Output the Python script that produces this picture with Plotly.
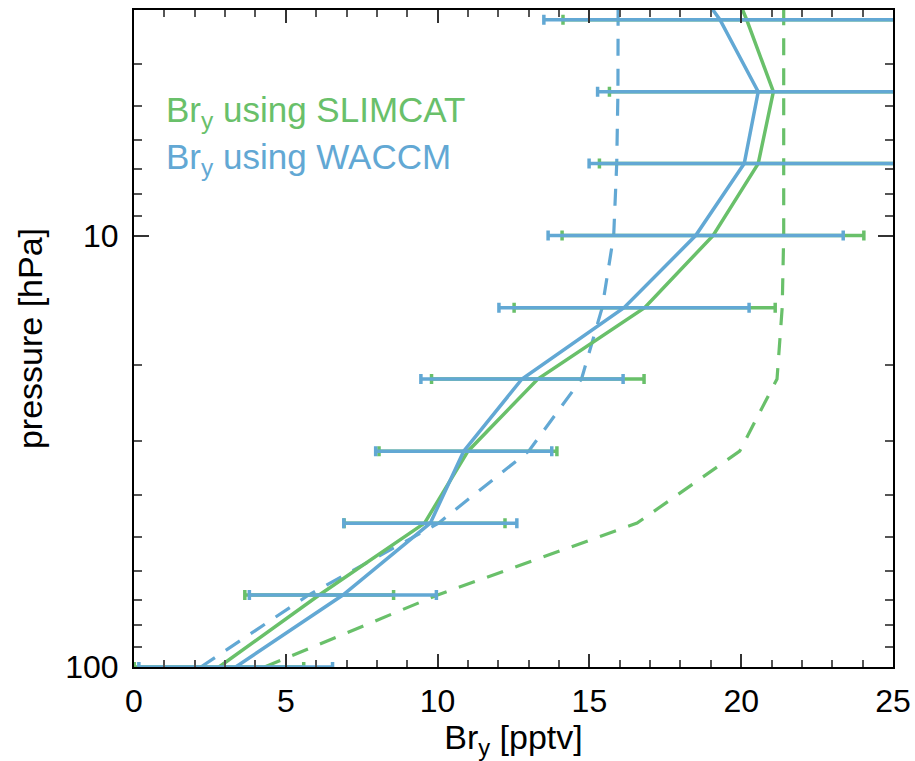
import plotly.graph_objects as go

# pressure levels [hPa]
pressure = [100, 68.1, 46.4, 31.6, 21.5, 14.7, 10, 6.81, 4.64, 3.16, 2.15]

# Bry using SLIMCAT (solid, green) and its uncertainty
bry_slimcat = [2.8, 6.1, 9.57, 11.0, 13.3, 16.82, 19.07, 20.56, 21.06, 20.18, 19.2]
err_slimcat = [2.79, 2.45, 2.65, 2.93, 3.5, 4.3, 4.97, 5.23, 5.4, 6.05, 0]

# Bry using WACCM (solid, blue) and its uncertainty
bry_waccm = [3.35, 6.88, 9.76, 10.86, 12.78, 16.14, 18.5, 20.1, 20.56, 19.3, 17.6]
err_waccm = [3.19, 3.08, 2.85, 2.9, 3.33, 4.12, 4.86, 5.11, 5.29, 5.8, 0]

# dashed reference profiles
dash_slimcat = [4.3, 10.0, 16.57, 19.95, 21.18, 21.35, 21.4, 21.4, 21.4, 21.4, 21.4]
dash_waccm = [2.2, 5.75, 10.03, 13.0, 14.74, 15.42, 15.8, 15.9, 15.94, 15.94, 15.95]

GREEN = "#69c06a"
BLUE = "#62a8d4"
FONT = "Liberation Sans"

fig = go.Figure()

fig.add_trace(go.Scatter(x=dash_slimcat, y=pressure, mode="lines",
                         line=dict(color=GREEN, width=3.2, dash="17px,13px"),
                         showlegend=False))
fig.add_trace(go.Scatter(x=dash_waccm, y=pressure, mode="lines",
                         line=dict(color=BLUE, width=3.2, dash="17px,13px"),
                         showlegend=False))
fig.add_trace(go.Scatter(x=bry_slimcat, y=pressure, mode="lines",
                         line=dict(color=GREEN, width=3.5),
                         error_x=dict(type="data", array=err_slimcat, symmetric=True,
                                      color=GREEN, thickness=3.5, width=5),
                         showlegend=False))
fig.add_trace(go.Scatter(x=bry_waccm, y=pressure, mode="lines",
                         line=dict(color=BLUE, width=3.5),
                         error_x=dict(type="data", array=err_waccm, symmetric=True,
                                      color=BLUE, thickness=3.5, width=5),
                         showlegend=False))

L, R, T, B = 134, 22, 10, 94
W, H = 915, 761
pw, ph = W - L - R, H - T - B


def px(x):
    return (x - L) / pw


def py(y):
    return 1 - (y - T) / ph


fig.update_layout(
    width=W, height=H,
    margin=dict(l=L, r=R, t=T, b=B, autoexpand=False),
    paper_bgcolor="white", plot_bgcolor="white",
    font=dict(family=FONT, size=32, color="black"),
    annotations=[
        dict(text="Br<sub>y</sub> using SLIMCAT", x=px(164), y=py(112),
             xref="paper", yref="paper",
             showarrow=False, font=dict(color=GREEN, size=35, family=FONT),
             xanchor="left", yanchor="middle"),
        dict(text="Br<sub>y</sub> using WACCM", x=px(164), y=py(159),
             xref="paper", yref="paper",
             showarrow=False, font=dict(color=BLUE, size=35, family=FONT),
             xanchor="left", yanchor="middle"),
    ],
)

fig.update_xaxes(
    range=[0, 25], tickvals=[0, 5, 10, 15, 20, 25], automargin=False,
    ticks="inside", ticklen=13, tickwidth=2, tickcolor="#333",
    minor=dict(dtick=1, ticks="inside", ticklen=7, tickwidth=2, tickcolor="#555"),
    showline=True, linecolor="black", linewidth=2, mirror="allticks",
    showgrid=False, zeroline=False,
    tickfont=dict(size=32, family=FONT), ticklabelstandoff=5,
    title=dict(text="Br<sub>y</sub> [pptv]", font=dict(size=34, family=FONT), standoff=4),
)
fig.update_yaxes(
    type="log", range=[2, 0.47712], automargin=False,
    tickvals=[10, 100], ticktext=["10", "100"],
    ticks="inside", ticklen=15, tickwidth=2, tickcolor="#333",
    minor=dict(tickvals=[3, 4, 5, 6, 7, 8, 9, 20, 30, 40, 50, 60, 70, 80, 90],
               ticks="inside", ticklen=8, tickwidth=2, tickcolor="#555"),
    showline=True, linecolor="black", linewidth=2, mirror="allticks",
    showgrid=False, zeroline=False,
    tickfont=dict(size=32, family=FONT), ticklabelstandoff=7,
    title=dict(text="pressure [hPa]", font=dict(size=34, family=FONT), standoff=12),
)

fig.write_html("out.html")
